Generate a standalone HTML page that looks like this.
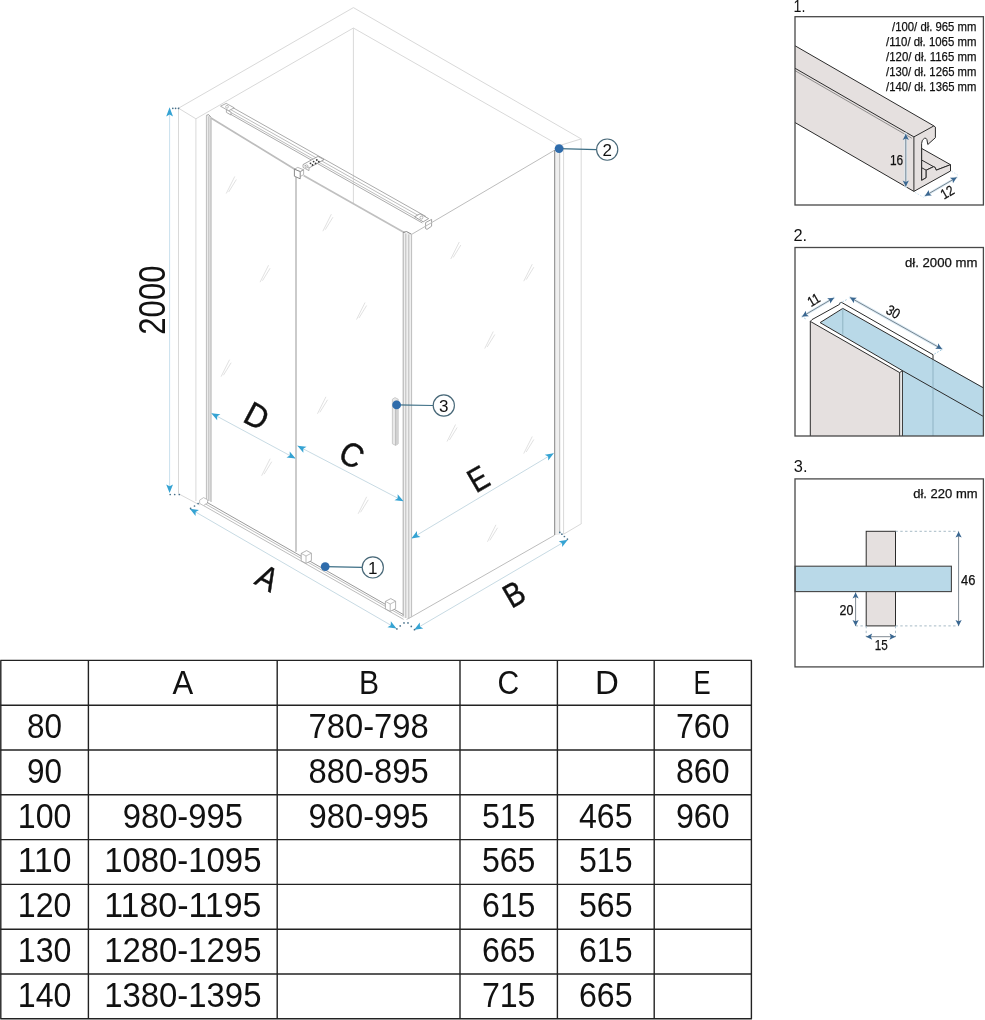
<!DOCTYPE html>
<html><head><meta charset="utf-8"><title>Shower cabin dimensions</title>
<style>
html,body{margin:0;padding:0;background:#fff;}
body{width:985px;height:1020px;overflow:hidden;font-family:"Liberation Sans",sans-serif;}
svg{display:block;position:absolute;left:0;top:0;will-change:transform;}
text{font-family:"Liberation Sans",sans-serif;fill:#111;}
.w{stroke:#d9d9d9;stroke-width:1;fill:none;}
.g{stroke:#bdbdbd;stroke-width:1;fill:none;}
.gd{stroke:#9a9a9a;stroke-width:1;fill:none;}
.gr{stroke:#ababab;stroke-width:1;fill:none;}
.gm{stroke:#b2b2b2;stroke-width:1.1;fill:none;}
.door{stroke:#c2c2c2;stroke-width:1.7;fill:none;}
.gk{stroke:#777;stroke-width:0.9;fill:none;}
.bl{stroke:#c4d8e1;stroke-width:0.95;fill:none;}
.ah{fill:#35a3d3;stroke:none;}
.dt{stroke:#3f7396;stroke-width:1.5;stroke-dasharray:1.5 3;fill:none;}
.mk{stroke:#d4d4d4;stroke-width:0.7;fill:none;}
.tb{stroke:#222;stroke-width:1.4;fill:none;}
.bx{stroke:#484848;stroke-width:1.3;fill:none;}
.dk{stroke:#2b2b2b;stroke-width:1;fill:none;stroke-linejoin:round;}
.sm{stroke:#111;stroke-width:0.25;}
.dkf{stroke:#2b2b2b;stroke-width:1;stroke-linejoin:round;}
.dd{stroke:#56646f;stroke-width:0.75;fill:none;}
.da{fill:#3a6791;stroke:none;}
</style></head><body>
<svg width="985" height="1020" viewBox="0 0 985 1020">
<rect x="0" y="0" width="985" height="1020" fill="#ffffff"/>

<g id="main">
<path class="w" d="M178.50 493.80 L178.50 108.20 L353.40 7.60 L581.20 138.90 L581.20 523.90"/>
<path class="w" d="M195.90 501.00 L195.90 118.80 L353.40 28.00 L552.60 141.60"/>
<path class="w" d="M178.50 108.20 L195.90 118.80"/>
<path class="w" d="M552.60 141.60 L558.00 146.00 L581.20 138.90"/>
<path class="w" d="M353.40 28.00 L353.40 204.00"/>
<path class="w" d="M179.40 494.20 L199.70 505.00"/>
<path class="w" d="M581.40 523.70 L563.60 534.20"/>
<path class="mk" d="M226.25 193.50 L234.75 176.50"/><path class="mk" d="M228.65 192.00 L236.35 179.50"/>
<path class="mk" d="M322.85 231.20 L331.35 214.20"/><path class="mk" d="M325.25 229.70 L332.95 217.20"/>
<path class="mk" d="M260.05 282.20 L268.55 265.20"/><path class="mk" d="M262.45 280.70 L270.15 268.20"/>
<path class="mk" d="M356.55 319.50 L365.05 302.50"/><path class="mk" d="M358.95 318.00 L366.65 305.50"/>
<path class="mk" d="M450.75 259.00 L459.25 242.00"/><path class="mk" d="M453.15 257.50 L460.85 245.00"/>
<path class="mk" d="M523.75 281.20 L532.25 264.20"/><path class="mk" d="M526.15 279.70 L533.85 267.20"/>
<path class="mk" d="M484.75 348.50 L493.25 331.50"/><path class="mk" d="M487.15 347.00 L494.85 334.50"/>
<path class="mk" d="M221.05 376.70 L229.55 359.70"/><path class="mk" d="M223.45 375.20 L231.15 362.70"/>
<path class="mk" d="M317.45 413.80 L325.95 396.80"/><path class="mk" d="M319.85 412.30 L327.55 399.80"/>
<path class="mk" d="M261.65 475.70 L270.15 458.70"/><path class="mk" d="M264.05 474.20 L271.75 461.70"/>
<path class="mk" d="M358.15 513.80 L366.65 496.80"/><path class="mk" d="M360.55 512.30 L368.25 499.80"/>
<path class="mk" d="M447.05 441.50 L455.55 424.50"/><path class="mk" d="M449.45 440.00 L457.15 427.50"/>
<path class="mk" d="M523.75 453.50 L532.25 436.50"/><path class="mk" d="M526.15 452.00 L533.85 439.50"/>
<path class="mk" d="M487.45 541.80 L495.95 524.80"/><path class="mk" d="M489.85 540.30 L497.55 527.80"/>
<rect x="206.4" y="116" width="4.6" height="385" fill="#ececec"/>
<path class="g" d="M206.40 115.60 L206.40 500.50"/>
<path class="g" d="M208.80 116.40 L208.80 501.00"/>
<path class="gm" d="M211.00 117.60 L211.00 502.00"/>
<path class="gd" d="M206.40 115.40 L208.60 114.60 L211.00 117.40"/>
<path d="M211 118.0 L295.6 169.8" stroke="#bdbdbd" stroke-width="1.7" fill="none"/>
<path class="door" d="M296.00 177.00 L296.00 551.70"/>
<path d="M303.6 175.6 L404.6 232.8" stroke="#c0c0c0" stroke-width="1.7" fill="none"/>
<path class="gr" d="M231.00 106.60 L426.00 216.60"/>
<path class="g" d="M229.60 109.00 L424.60 219.00"/>
<path class="g" d="M228.60 111.20 L423.40 221.40"/>
<path class="gr" d="M227.60 112.60 L422.40 223.00"/>
<path d="M220.5 106.2 L226.2 103.4 L234.2 107.8 L228.6 110.8Z" fill="#fff" stroke="#9a9a9a" stroke-width="0.8"/>
<path d="M226.4 109.6 L231.0 112.2 L231.0 115.0 L226.4 112.4Z" fill="#fff" stroke="#9a9a9a" stroke-width="0.8"/>
<circle cx="227" cy="106.8" r="1.4" fill="none" stroke="#9a9a9a" stroke-width="0.6"/>
<path d="M294.4 169.2 L297.8 167.4 L303.6 169.8 L300.2 171.6Z" fill="#fff" stroke="#9a9a9a" stroke-width="0.7"/>
<path d="M294.4 169.2 L300.2 171.6 L300.2 178.8 L294.4 176.2Z" fill="#fff" stroke="#7e7e7e" stroke-width="0.9"/>
<path d="M300.2 171.6 L303.6 169.8 L303.6 174.6 L300.2 176.6" fill="none" stroke="#9a9a9a" stroke-width="0.7"/>
<path d="M303.0 164.6 L318.0 156.4 L324.0 159.6 L309.0 168.0Z" fill="#fff" stroke="#8c8c8c" stroke-width="0.8"/>
<path d="M303.0 164.6 L303.0 167.4 L309.0 170.6 L309.0 168.0" fill="#fff" stroke="#8c8c8c" stroke-width="0.7"/>
<circle cx="310.5" cy="163.3" r="0.9" fill="#3a3a3a"/>
<circle cx="313.6" cy="161.6" r="0.9" fill="#3a3a3a"/>
<circle cx="316.8" cy="160.0" r="0.9" fill="#3a3a3a"/>
<circle cx="312.5" cy="165.0" r="0.9" fill="#3a3a3a"/>
<circle cx="315.6" cy="163.4" r="0.9" fill="#3a3a3a"/>
<circle cx="318.8" cy="161.7" r="0.9" fill="#3a3a3a"/>
<circle cx="306.6" cy="166.4" r="1.5" fill="none" stroke="#8c8c8c" stroke-width="0.6"/>
<path d="M414.6 216.8 L420.0 213.8 L428.6 218.6 L423.2 221.8Z" fill="#fff" stroke="#8c8c8c" stroke-width="0.8"/>
<circle cx="421.4" cy="217.6" r="1.5" fill="none" stroke="#8c8c8c" stroke-width="0.6"/>
<path d="M425.6 222.6 L431.6 219.4 L431.6 226.2 L427.0 229.4 L425.6 228.6Z" fill="#fff" stroke="#8c8c8c" stroke-width="0.8"/>
<rect x="403.2" y="233" width="8.4" height="385" fill="#efefef"/>
<path class="gm" d="M403.20 232.60 L403.20 616.00"/>
<path class="g" d="M405.80 233.60 L405.80 618.00"/>
<path class="g" d="M408.80 234.40 L408.80 619.00"/>
<path class="g" d="M411.60 234.60 L411.60 616.80"/>
<path class="gk" d="M403.20 232.40 L406.60 231.60 L411.40 234.20"/>
<path class="g" d="M411.60 234.40 L554.60 150.20"/>
<path class="g" d="M411.60 616.80 L554.60 535.20"/>
<path class="g" d="M406.60 619.40 L411.60 616.80"/>
<rect x="554.6" y="150" width="5" height="385" fill="#efefef"/>
<path class="gk" d="M554.70 150.00 L554.70 535.00"/>
<path class="g" d="M559.70 148.80 L559.70 532.80"/>
<path class="w" d="M563.60 146.60 L563.60 534.20"/>
<path d="M199.6 500.2 L203.6 497.6 L207.6 499.8 L207.6 503.0 L203.4 505.6 L199.6 503.4Z" fill="#fff" stroke="#a8a8a8" stroke-width="0.7"/>
<path class="gd" d="M207.00 502.40 L403.40 614.60"/>
<path class="g" d="M205.60 504.00 L403.40 616.60"/>
<path class="g" d="M203.60 505.60 L403.60 619.40"/>
<path d="M301.2 553.4 l5.4 -2.8 l4.8 2.6 l0 7.4 l-5.4 2.8 l-4.8 -2.6Z" fill="#fff" stroke="#a0a0a0" stroke-width="0.8"/><path d="M301.2 553.4 l4.8 2.6 l5.4 -2.8 M306.0 556.0 l0 7.4" fill="none" stroke="#a0a0a0" stroke-width="0.7"/>
<path d="M385.4 601.4 l5.4 -2.8 l4.8 2.6 l0 7.4 l-5.4 2.8 l-4.8 -2.6Z" fill="#fff" stroke="#a0a0a0" stroke-width="0.8"/><path d="M385.4 601.4 l4.8 2.6 l5.4 -2.8 M390.2 604.0 l0 7.4" fill="none" stroke="#a0a0a0" stroke-width="0.7"/>
<path d="M392.4 399.2 L395.0 397.6 L398.2 399.2 L398.2 443.8 L395.6 445.4 L392.4 443.8Z" fill="#e9e9e9" stroke="#c2c2c2" stroke-width="0.8"/>
<path d="M395.6 400.6 L398.2 399.2 L398.2 443.8 L395.6 445.4Z" fill="#d2d2d2"/>
<path class="g" d="M395.60 400.80 L395.60 445.40"/>
<path d="M169.6 109 L169.6 491" stroke="#c9e1ee" stroke-width="1" fill="none"/>
<path class="ah" d="M169.60 107.20 L173.00 116.60 L169.60 114.53 L166.20 116.60Z"/>
<path class="ah" d="M169.60 493.00 L166.20 484.40 L169.60 486.29 L173.00 484.40Z"/>
<line class="bl" x1="189.90" y1="508.70" x2="396.50" y2="628.50"/><path class="ah" d="M189.90 508.70 L198.96 510.02 L195.64 512.03 L195.55 515.91Z"/><path class="ah" d="M396.50 628.50 L387.44 627.18 L390.76 625.17 L390.85 621.29Z"/>
<line class="bl" x1="414.20" y1="629.80" x2="567.80" y2="539.80"/><path class="ah" d="M414.20 629.80 L419.81 622.57 L419.92 626.45 L423.25 628.44Z"/><path class="ah" d="M567.80 539.80 L562.19 547.03 L562.08 543.15 L558.75 541.16Z"/>
<circle cx="172.8" cy="108.3" r="0.85" fill="#47708a"/><circle cx="175.6" cy="108.3" r="0.85" fill="#47708a"/><circle cx="178.5" cy="108.3" r="0.85" fill="#47708a"/>
<circle cx="170.2" cy="494.5" r="0.85" fill="#47708a"/><circle cx="174.7" cy="494.5" r="0.85" fill="#47708a"/><circle cx="179.3" cy="494.5" r="0.85" fill="#47708a"/>
<circle cx="198.1" cy="503.5" r="0.85" fill="#47708a"/><circle cx="194.5" cy="506.0" r="0.85" fill="#47708a"/><circle cx="190.6" cy="508.4" r="0.85" fill="#47708a"/>
<circle cx="396.9" cy="628.9" r="0.85" fill="#47708a"/><circle cx="400.2" cy="625.9" r="0.85" fill="#47708a"/><circle cx="404.0" cy="622.9" r="0.85" fill="#47708a"/><circle cx="408.0" cy="622.9" r="0.85" fill="#47708a"/><circle cx="411.3" cy="626.4" r="0.85" fill="#47708a"/><circle cx="414.5" cy="629.7" r="0.85" fill="#47708a"/>
<circle cx="559.8" cy="532.4" r="0.85" fill="#47708a"/><circle cx="561.9" cy="534.2" r="0.85" fill="#47708a"/><circle cx="564.4" cy="536.5" r="0.85" fill="#47708a"/><circle cx="567.4" cy="539.2" r="0.85" fill="#47708a"/>
<line class="bl" x1="211.30" y1="413.20" x2="295.60" y2="458.60"/><path class="ah" d="M211.30 413.20 L220.40 414.24 L217.14 416.34 L217.17 420.22Z"/><path class="ah" d="M295.60 458.60 L286.50 457.56 L289.76 455.46 L289.73 451.58Z"/>
<line class="bl" x1="297.40" y1="445.80" x2="403.60" y2="501.20"/><path class="ah" d="M297.40 445.80 L306.51 446.72 L303.28 448.87 L303.36 452.75Z"/><path class="ah" d="M403.60 501.20 L394.49 500.28 L397.72 498.13 L397.64 494.25Z"/>
<line class="bl" x1="411.40" y1="538.40" x2="553.80" y2="453.20"/><path class="ah" d="M411.40 538.40 L416.95 531.12 L417.09 535.00 L420.44 536.95Z"/><path class="ah" d="M553.80 453.20 L548.25 460.48 L548.11 456.60 L544.76 454.65Z"/>
</g>
<text transform="translate(267.4 577.8) rotate(28.0) scale(0.880 1)" font-size="33.5" text-anchor="middle" dominant-baseline="central" stroke="#111" stroke-width="0.45">A</text>
<text transform="translate(514.2 594.4) rotate(-30.0) scale(0.860 1)" font-size="33.5" text-anchor="middle" dominant-baseline="central" stroke="#111" stroke-width="0.45">B</text>
<text transform="translate(351.6 454.8) rotate(28.0) scale(0.920 1)" font-size="33.5" text-anchor="middle" dominant-baseline="central" stroke="#111" stroke-width="0.45">C</text>
<text transform="translate(256.8 416.0) rotate(28.0) scale(0.920 1)" font-size="33.5" text-anchor="middle" dominant-baseline="central" stroke="#111" stroke-width="0.45">D</text>
<text transform="translate(478.2 479.0) rotate(-30.0) scale(0.830 1)" font-size="33.5" text-anchor="middle" dominant-baseline="central" stroke="#111" stroke-width="0.45">E</text>
<text transform="translate(164.8 334.7) rotate(-90)" font-size="37.4" textLength="69.2" lengthAdjust="spacingAndGlyphs">2000</text>
<line x1="325.2" y1="566.6" x2="362.2" y2="567.4" stroke="#3c6e85" stroke-width="1.2"/><circle cx="325.2" cy="566.6" r="4.4" fill="#2f6cab"/><circle cx="372.8" cy="567.4" r="10.6" fill="#fff" stroke="#486878" stroke-width="1.15"/><text x="372.8" y="573.5" font-size="17" text-anchor="middle">1</text>
<line x1="559.1" y1="148.6" x2="596.6" y2="149.6" stroke="#3c6e85" stroke-width="1.2"/><circle cx="559.1" cy="148.6" r="4.4" fill="#2f6cab"/><circle cx="607.2" cy="149.6" r="10.6" fill="#fff" stroke="#486878" stroke-width="1.15"/><text x="607.2" y="155.7" font-size="17" text-anchor="middle">2</text>
<line x1="396.6" y1="404.9" x2="433.2" y2="405.5" stroke="#3c6e85" stroke-width="1.2"/><circle cx="396.6" cy="404.9" r="4.4" fill="#2f6cab"/><circle cx="443.8" cy="405.5" r="10.6" fill="#fff" stroke="#486878" stroke-width="1.15"/><text x="443.8" y="411.6" font-size="17" text-anchor="middle">3</text>
<g id="table">
<line class="tb" x1="0.30" y1="660.40" x2="751.90" y2="660.40"/>
<line class="tb" x1="0.30" y1="705.20" x2="751.90" y2="705.20"/>
<line class="tb" x1="0.30" y1="750.00" x2="751.90" y2="750.00"/>
<line class="tb" x1="0.30" y1="794.80" x2="751.90" y2="794.80"/>
<line class="tb" x1="0.30" y1="839.60" x2="751.90" y2="839.60"/>
<line class="tb" x1="0.30" y1="884.40" x2="751.90" y2="884.40"/>
<line class="tb" x1="0.30" y1="929.20" x2="751.90" y2="929.20"/>
<line class="tb" x1="0.30" y1="974.00" x2="751.90" y2="974.00"/>
<line class="tb" x1="0.30" y1="1018.80" x2="751.90" y2="1018.80"/>
<line class="tb" x1="0.80" y1="660.40" x2="0.80" y2="1018.80"/>
<line class="tb" x1="88.40" y1="660.40" x2="88.40" y2="1018.80"/>
<line class="tb" x1="277.20" y1="660.40" x2="277.20" y2="1018.80"/>
<line class="tb" x1="460.00" y1="660.40" x2="460.00" y2="1018.80"/>
<line class="tb" x1="557.40" y1="660.40" x2="557.40" y2="1018.80"/>
<line class="tb" x1="654.20" y1="660.40" x2="654.20" y2="1018.80"/>
<line class="tb" x1="751.40" y1="660.40" x2="751.40" y2="1018.80"/>
<text transform="translate(182.8 694.0) scale(0.94 1)" font-size="33" text-anchor="middle">A</text>
<text transform="translate(369.1 694.0) scale(0.91 1)" font-size="33" text-anchor="middle">B</text>
<text transform="translate(508.4 694.0) scale(0.91 1)" font-size="33" text-anchor="middle">C</text>
<text transform="translate(606.8 694.0) scale(1.00 1)" font-size="33" text-anchor="middle">D</text>
<text transform="translate(702.2 694.0) scale(0.78 1)" font-size="33" text-anchor="middle">E</text>
<text x="44.6" y="738.0" font-size="34.8" text-anchor="middle" textLength="35.0" lengthAdjust="spacingAndGlyphs">80</text>
<text x="368.6" y="738.0" font-size="34.8" text-anchor="middle" textLength="120.1" lengthAdjust="spacingAndGlyphs">780-798</text>
<text x="702.8" y="738.0" font-size="34.8" text-anchor="middle" textLength="53.6" lengthAdjust="spacingAndGlyphs">760</text>
<text x="44.6" y="782.8" font-size="34.8" text-anchor="middle" textLength="35.0" lengthAdjust="spacingAndGlyphs">90</text>
<text x="368.6" y="782.8" font-size="34.8" text-anchor="middle" textLength="120.1" lengthAdjust="spacingAndGlyphs">880-895</text>
<text x="702.8" y="782.8" font-size="34.8" text-anchor="middle" textLength="53.6" lengthAdjust="spacingAndGlyphs">860</text>
<text x="44.6" y="827.6" font-size="34.8" text-anchor="middle" textLength="53.6" lengthAdjust="spacingAndGlyphs">100</text>
<text x="182.8" y="827.6" font-size="34.8" text-anchor="middle" textLength="120.1" lengthAdjust="spacingAndGlyphs">980-995</text>
<text x="368.6" y="827.6" font-size="34.8" text-anchor="middle" textLength="120.1" lengthAdjust="spacingAndGlyphs">980-995</text>
<text x="508.7" y="827.6" font-size="34.8" text-anchor="middle" textLength="53.6" lengthAdjust="spacingAndGlyphs">515</text>
<text x="605.8" y="827.6" font-size="34.8" text-anchor="middle" textLength="53.6" lengthAdjust="spacingAndGlyphs">465</text>
<text x="702.8" y="827.6" font-size="34.8" text-anchor="middle" textLength="53.6" lengthAdjust="spacingAndGlyphs">960</text>
<text x="44.6" y="872.4" font-size="34.8" text-anchor="middle" textLength="53.6" lengthAdjust="spacingAndGlyphs">110</text>
<text x="182.8" y="872.4" font-size="34.8" text-anchor="middle" textLength="157.3" lengthAdjust="spacingAndGlyphs">1080-1095</text>
<text x="508.7" y="872.4" font-size="34.8" text-anchor="middle" textLength="53.6" lengthAdjust="spacingAndGlyphs">565</text>
<text x="605.8" y="872.4" font-size="34.8" text-anchor="middle" textLength="53.6" lengthAdjust="spacingAndGlyphs">515</text>
<text x="44.6" y="917.2" font-size="34.8" text-anchor="middle" textLength="53.6" lengthAdjust="spacingAndGlyphs">120</text>
<text x="182.8" y="917.2" font-size="34.8" text-anchor="middle" textLength="157.3" lengthAdjust="spacingAndGlyphs">1180-1195</text>
<text x="508.7" y="917.2" font-size="34.8" text-anchor="middle" textLength="53.6" lengthAdjust="spacingAndGlyphs">615</text>
<text x="605.8" y="917.2" font-size="34.8" text-anchor="middle" textLength="53.6" lengthAdjust="spacingAndGlyphs">565</text>
<text x="44.6" y="962.0" font-size="34.8" text-anchor="middle" textLength="53.6" lengthAdjust="spacingAndGlyphs">130</text>
<text x="182.8" y="962.0" font-size="34.8" text-anchor="middle" textLength="157.3" lengthAdjust="spacingAndGlyphs">1280-1295</text>
<text x="508.7" y="962.0" font-size="34.8" text-anchor="middle" textLength="53.6" lengthAdjust="spacingAndGlyphs">665</text>
<text x="605.8" y="962.0" font-size="34.8" text-anchor="middle" textLength="53.6" lengthAdjust="spacingAndGlyphs">615</text>
<text x="44.6" y="1006.8" font-size="34.8" text-anchor="middle" textLength="53.6" lengthAdjust="spacingAndGlyphs">140</text>
<text x="182.8" y="1006.8" font-size="34.8" text-anchor="middle" textLength="157.3" lengthAdjust="spacingAndGlyphs">1380-1395</text>
<text x="508.7" y="1006.8" font-size="34.8" text-anchor="middle" textLength="53.6" lengthAdjust="spacingAndGlyphs">715</text>
<text x="605.8" y="1006.8" font-size="34.8" text-anchor="middle" textLength="53.6" lengthAdjust="spacingAndGlyphs">665</text>
</g>
<g id="boxes">
<text transform="translate(793.6 12.1) scale(0.86 1)" font-size="16.6">1.</text>
<clipPath id="c1"><rect x="795.0" y="16.7" width="188.4" height="188.3"/></clipPath>
<g clip-path="url(#c1)">
<path d="M794.6 45.5 L933.9 125.9 L913.9 136.9 L913.9 191.4 L794.6 122.3Z" fill="#e5e0df"/>
<path class="dk" d="M794.60 45.50 L933.90 125.90"/>
<path class="dk" d="M794.60 68.00 L913.90 136.90"/>
<path d="M794.6 70.4 L911.8 138.2" stroke="#555" stroke-width="0.6" fill="none"/>
<path class="dk" d="M794.60 122.30 L913.90 191.40"/>
<path class="dkf" fill="#e5e0df" d="M921.6 148.4 L950.5 164.7 L936.2 170.2 L935.2 167.5 L933.6 166.7 L926.2 170.2 L926.2 177.7 L921.6 180.4Z"/>
<path class="dk" d="M921.6 160.0 L933.6 166.7 M921.6 167.7 L926.2 170.2"/>
<path class="dkf" fill="#e5e0df" d="M913.9 136.9 L933.9 125.9 L935.4 127.1 L935.4 137.7 L927.8 144.5 L926.9 139.6 Q926.3 137.6 924.4 138.3 Q921.7 139.6 921.6 143.5 L921.6 180.4 L926.2 177.7 L926.2 170.2 L933.6 166.7 L935.2 167.5 L936.2 170.2 L950.5 164.7 L950.5 171.0 L913.9 191.4Z"/>
</g>
<line x1="905.80" y1="133.90" x2="905.80" y2="186.60" stroke="#dcebf5" stroke-width="2.6" stroke-linecap="round"/><line class="dd" x1="905.80" y1="133.90" x2="905.80" y2="186.60"/><path class="da" d="M905.80 133.90 L908.90 139.90 L905.80 138.58 L902.70 139.90Z"/><path class="da" d="M905.80 186.60 L902.70 180.60 L905.80 181.92 L908.90 180.60Z"/>
<line x1="925.10" y1="195.80" x2="956.60" y2="177.50" stroke="#dcebf5" stroke-width="2.6" stroke-linecap="round"/><line class="dd" x1="925.10" y1="195.80" x2="956.60" y2="177.50"/><path class="da" d="M925.10 195.80 L928.73 190.11 L929.15 193.45 L931.85 195.47Z"/><path class="da" d="M956.60 177.50 L952.97 183.19 L952.55 179.85 L949.85 177.83Z"/>
<path d="M915.0 192.4 L923.6 197.4 M951.6 171.2 L958.6 175.6" stroke="#cfe4f1" stroke-width="1" stroke-dasharray="1.5 1.5" fill="none"/>
<text x="896.6" y="164.6" class="sm" font-size="14.2" text-anchor="middle" textLength="13.2" lengthAdjust="spacingAndGlyphs">16</text>
<text transform="translate(947.2 192.2) rotate(-30)" class="sm" font-size="14.2" text-anchor="middle" dominant-baseline="central" textLength="13.2" lengthAdjust="spacingAndGlyphs">12</text>
<text class="sm" x="976.4" y="30.6" font-size="12.6" text-anchor="end" textLength="84.3" lengthAdjust="spacingAndGlyphs">/100/ dł. 965 mm</text>
<text class="sm" x="976.4" y="45.7" font-size="12.6" text-anchor="end" textLength="90.3" lengthAdjust="spacingAndGlyphs">/110/ dł. 1065 mm</text>
<text class="sm" x="976.4" y="60.8" font-size="12.6" text-anchor="end" textLength="90.3" lengthAdjust="spacingAndGlyphs">/120/ dł. 1165 mm</text>
<text class="sm" x="976.4" y="75.9" font-size="12.6" text-anchor="end" textLength="90.3" lengthAdjust="spacingAndGlyphs">/130/ dł. 1265 mm</text>
<text class="sm" x="976.4" y="91.0" font-size="12.6" text-anchor="end" textLength="90.3" lengthAdjust="spacingAndGlyphs">/140/ dł. 1365 mm</text>
<rect class="bx" x="795.0" y="16.7" width="188.4" height="188.3"/>
<text x="793.4" y="241.4" font-size="16.4">2.</text>
<clipPath id="c2"><rect x="795.0" y="247.5" width="188.4" height="188.5"/></clipPath>
<g clip-path="url(#c2)">
<path d="M820.1 322.6 L842.8 308.4 L990 391 L990 440 L902.4 440 L902.4 371.6Z" fill="#b9d9e8"/>
<path d="M810.3 321.4 L899.7 372.6 L899.7 440 L810.3 440Z" fill="#e5e0df"/>
<path d="M810.3 321.4 L812.0 319.6 L839.5 304.4 Q839.2 302.6 841.4 302.4 L933.0 354.7 L933.0 359.6 L930.4 358.0 L842.8 308.4 L820.1 322.6 L902.4 370.6 L902.4 440 L899.7 440 L899.7 372.6Z" fill="#fff"/>
<path class="dk" d="M810.30 440.00 L810.30 321.40 L812.00 319.60 L839.50 304.40"/>
<path class="dk" d="M839.5 304.4 Q839.0 302.4 841.6 302.4 L933.0 354.7 L933.0 359.6"/>
<path class="dk" d="M810.30 321.40 L899.70 372.60 L899.70 440.00"/>
<path class="dk" d="M820.10 322.60 L842.80 308.40 L930.40 358.00"/>
<path class="dk" d="M820.10 322.60 L902.40 370.60 L902.40 440.00"/>
<path class="dk" d="M899.70 372.60 L902.40 370.60"/>
<path class="dk" d="M930.40 358.00 L990.00 391.60"/>
<path class="dk" d="M902.40 370.60 L990.00 420.20"/>
<path d="M842.8 308.4 L842.8 334.6 M933.0 359.6 L933.0 440" stroke="#7fa3b5" stroke-width="0.7" fill="none"/>
</g>
<line x1="802.20" y1="316.50" x2="833.90" y2="297.90" stroke="#dcebf5" stroke-width="2.6" stroke-linecap="round"/><line class="dd" x1="802.20" y1="316.50" x2="833.90" y2="297.90"/><path class="da" d="M802.20 316.50 L805.81 310.79 L806.24 314.13 L808.94 316.14Z"/><path class="da" d="M833.90 297.90 L830.29 303.61 L829.86 300.27 L827.16 298.26Z"/>
<line x1="850.10" y1="297.50" x2="941.90" y2="349.00" stroke="#dcebf5" stroke-width="2.6" stroke-linecap="round"/><line class="dd" x1="850.10" y1="297.50" x2="941.90" y2="349.00"/><path class="da" d="M850.10 297.50 L856.85 297.73 L854.18 299.79 L853.82 303.14Z"/><path class="da" d="M941.90 349.00 L935.15 348.77 L937.82 346.71 L938.18 343.36Z"/>
<path d="M805.6 318.8 L802.6 317.2 M839.6 303.6 L846.6 299.6 M934.4 354.0 L941.6 349.8" stroke="#9cc6dc" stroke-width="1" stroke-dasharray="1.6 1.6" fill="none"/>
<text transform="translate(813.6 299.8) rotate(-30)" class="sm" font-size="14.2" text-anchor="middle" dominant-baseline="central" textLength="12.0" lengthAdjust="spacingAndGlyphs">11</text>
<text transform="translate(893.2 311.7) rotate(30)" class="sm" font-size="14.2" text-anchor="middle" dominant-baseline="central" textLength="13.4" lengthAdjust="spacingAndGlyphs">30</text>
<text class="sm" x="977.4" y="266.8" font-size="12.6" text-anchor="end" textLength="72.4" lengthAdjust="spacingAndGlyphs">dł. 2000 mm</text>
<rect class="bx" x="795.0" y="247.5" width="188.4" height="188.5"/>
<text x="793.8" y="472.2" font-size="16.4">3.</text>
<rect x="866.2" y="531.3" width="29.3" height="94.6" fill="#e5e0df" stroke="#2b2b2b" stroke-width="1"/>
<rect x="795.1" y="566.2" width="156.3" height="25.4" fill="#b9d9e8" stroke="#444" stroke-width="1.1"/>
<path d="M895.5 531.3 L958.6 531.3 M895.5 625.9 L958.6 625.9 M855.6 625.9 L866.2 625.9 M866.2 625.9 L866.2 637 M895.5 625.9 L895.5 637" stroke="#9db2c0" stroke-width="0.9" stroke-dasharray="2.4 2.4" fill="none"/>
<line class="dd" x1="958.60" y1="531.60" x2="958.60" y2="625.90"/><path class="da" d="M958.60 531.60 L961.70 537.60 L958.60 536.28 L955.50 537.60Z"/><path class="da" d="M958.60 625.90 L955.50 619.90 L958.60 621.22 L961.70 619.90Z"/>
<line class="dd" x1="855.60" y1="592.40" x2="855.60" y2="625.90"/><path class="da" d="M855.60 592.40 L858.70 598.40 L855.60 597.08 L852.50 598.40Z"/><path class="da" d="M855.60 625.90 L852.50 619.90 L855.60 621.22 L858.70 619.90Z"/>
<line class="dd" x1="866.20" y1="636.70" x2="895.50" y2="636.70"/><path class="da" d="M866.20 636.70 L872.20 633.60 L870.88 636.70 L872.20 639.80Z"/><path class="da" d="M895.50 636.70 L889.50 639.80 L890.82 636.70 L889.50 633.60Z"/>
<text x="968.2" y="584.6" class="sm" font-size="14.2" text-anchor="middle" textLength="14.4" lengthAdjust="spacingAndGlyphs">46</text>
<text x="846.4" y="615.0" class="sm" font-size="14.2" text-anchor="middle" textLength="13.8" lengthAdjust="spacingAndGlyphs">20</text>
<text x="881.2" y="650.4" class="sm" font-size="14.2" text-anchor="middle" textLength="13.0" lengthAdjust="spacingAndGlyphs">15</text>
<text class="sm" x="977.6" y="498.0" font-size="12.6" text-anchor="end" textLength="64.4" lengthAdjust="spacingAndGlyphs">dł. 220 mm</text>
<rect class="bx" x="795.0" y="478.9" width="188.4" height="188.0"/>
</g>
</svg></body></html>
